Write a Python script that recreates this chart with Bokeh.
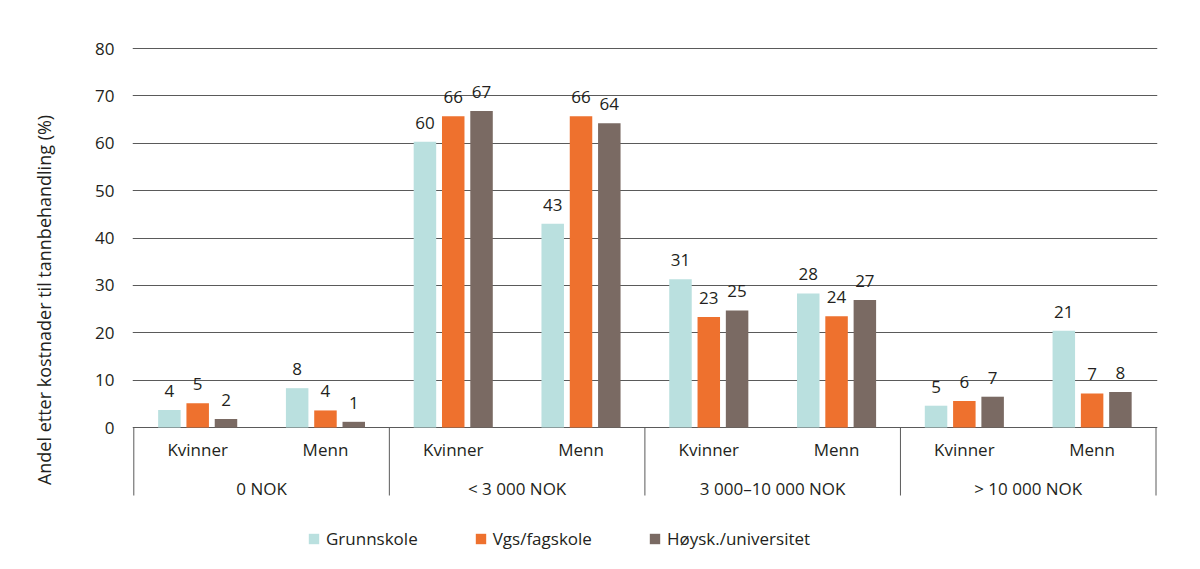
from bokeh.plotting import figure
from bokeh.models import Range1d, FixedTicker, ColumnDataSource, Legend, LegendItem
from bokeh.core.properties import value
from bokeh.embed import file_html
from bokeh.resources import INLINE

# ---- data ----
cost_groups = ["0 NOK", "< 3 000 NOK", "3 000–10 000 NOK", "> 10 000 NOK"]
genders = ["Kvinner", "Menn"]
education = ["Grunnskole", "Vgs/fagskole", "Høysk./universitet"]
grunnskole = [3.7, 8.3, 60.3, 43.0, 31.3, 28.3, 4.6, 20.4]
vgs = [5.1, 3.6, 65.7, 65.7, 23.3, 23.5, 5.6, 7.2]
hoysk = [1.8, 1.2, 66.8, 64.2, 24.7, 26.9, 6.5, 7.5]
grunnskole_labels = ["4", "8", "60", "43", "31", "28", "5", "21"]
vgs_labels = ["5", "4", "66", "66", "23", "24", "6", "7"]
hoysk_labels = ["2", "1", "67", "64", "25", "27", "7", "8"]
y_ticks = [0, 10, 20, 30, 40, 50, 60, 70, 80]
y_title = "Andel etter kostnader til tannbehandling (%)"

colors = ["#BAE0DF", "#EE712E", "#7A6A63"]
FONT = "Open Sans"
TXT = "#231F20"

# ---- layout constants ----
W, H = 1192, 561
PX = 379 / 80.0            # pixels per percent
UNIT = 127.78              # pixels per subgroup
frame_top, zero_y = 38, 427
y_end = 80 + (48 - frame_top) / PX
y_start = -(H - zero_y) / PX
x_start, x_end = -1.3 / UNIT, 8 + 1.5 / UNIT

p = figure(width=W, height=H, output_backend="svg", toolbar_location=None,
           x_range=Range1d(x_start, x_end), y_range=Range1d(y_start, y_end),
           x_axis_location=None, min_border_left=132, min_border_right=W - 1157,
           min_border_top=frame_top, min_border_bottom=0)
p.outline_line_color = None
p.xgrid.visible = False
p.ygrid.ticker = FixedTicker(ticks=y_ticks)
p.ygrid.grid_line_color = "#5a5a5a"
p.ygrid.grid_line_width = 1

ax = p.yaxis[0]
ax.ticker = FixedTicker(ticks=y_ticks)
ax.bounds = (0, 80)
ax.axis_line_color = None
ax.major_tick_line_color = None
ax.minor_tick_line_color = None
ax.major_tick_out = 0
ax.major_label_standoff = 18
ax.major_label_text_font = FONT
ax.major_label_text_font_size = "17px"
ax.major_label_text_color = TXT
ax.axis_label = y_title
ax.axis_label_text_font = FONT
ax.axis_label_text_font_size = "18px"
ax.axis_label_text_font_style = "normal"
ax.axis_label_text_color = TXT
ax.axis_label_standoff = 36

step = 28.3 / UNIT
bw = 22.5 / UNIT
n = len(grunnskole)
renderers = []
for k, (vals, labs) in enumerate([(grunnskole, grunnskole_labels), (vgs, vgs_labels), (hoysk, hoysk_labels)]):
    xs = [i + 0.5 + (k - 1) * step for i in range(n)]
    src = ColumnDataSource(dict(x=xs, top=vals, lab=labs))
    r = p.vbar(x="x", top="top", width=bw, bottom=0, source=src,
               fill_color=colors[k], line_color=None)
    renderers.append(r)
    p.text(x="x", y="top", text="lab", source=src, text_align="center",
           text_baseline="middle", y_offset=-19, text_font=value(FONT),
           text_font_size="17px", text_color=TXT)

# category labels
gx = [i + 0.5 for i in range(n)]
gl = [genders[i % 2] for i in range(n)]
p.text(x=gx, y=[-22 / PX] * n, text=gl, text_align="center", text_baseline="middle",
       text_font=value(FONT), text_font_size="17px", text_color=TXT)
cx = [2 * g + 1 for g in range(len(cost_groups))]
p.text(x=cx, y=[-61 / PX] * len(cx), text=cost_groups, text_align="center",
       text_baseline="middle", text_font=value(FONT), text_font_size="17px", text_color=TXT)
sep_x = [2 * g for g in range(len(cost_groups) + 1)]
p.segment(x0=sep_x, y0=[0] * len(sep_x), x1=sep_x, y1=[-68 / PX] * len(sep_x),
          line_color="#5a5a5a", line_width=1)

legend = Legend(items=[LegendItem(label=education[k], renderers=[renderers[k]]) for k in range(3)],
                orientation="horizontal", location=(175, 11),
                glyph_width=13, glyph_height=13, label_standoff=6, spacing=56,
                padding=0, margin=0, border_line_color=None, background_fill_alpha=0,
                label_text_font=FONT, label_text_font_size="17px", label_text_color=TXT)
p.add_layout(legend)

open("out.html", "w").write(file_html(p, INLINE))
